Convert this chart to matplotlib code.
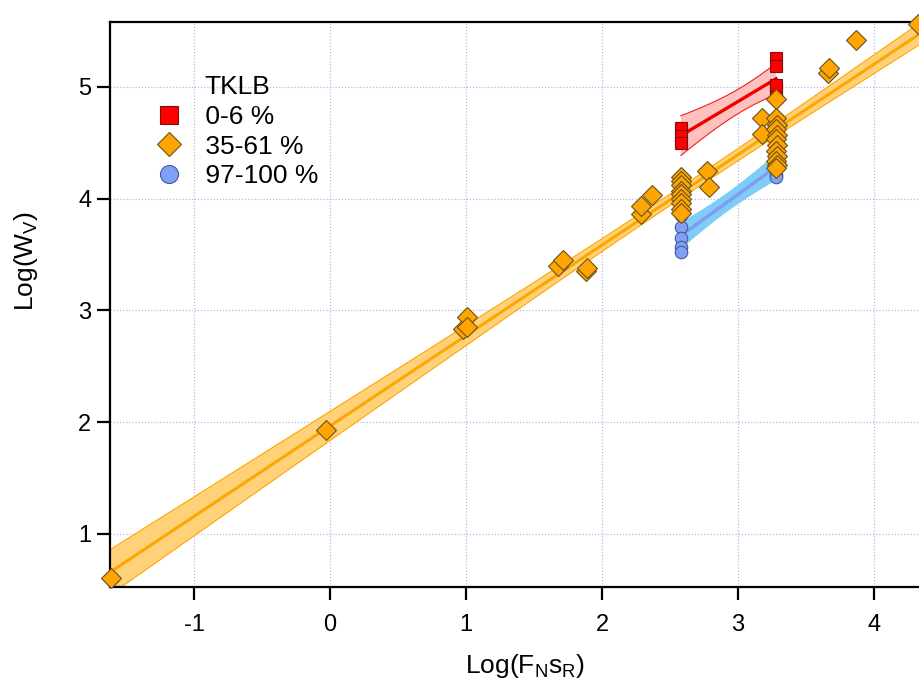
import math
import numpy as np
import matplotlib
matplotlib.use("Agg")
import matplotlib.pyplot as plt
from matplotlib.lines import Line2D

# ---------------- data ----------------
red_x = [2.58, 2.58, 2.58, 3.28, 3.28, 3.28, 3.28, 3.28]
red_y = [4.63, 4.56, 4.50, 5.26, 5.19, 4.91, 4.98, 5.02]

orange_x = [-1.61, -0.03, 0.98, 1.01, 1.01, 1.68, 1.71, 1.88, 1.89,
            2.29, 2.29, 2.37,
            2.58, 2.58, 2.58, 2.58, 2.58, 2.58, 2.58, 2.58, 2.58,
            2.77, 2.79, 3.18, 3.18,
            3.28, 3.28, 3.29, 3.28, 3.29, 3.28, 3.29, 3.28, 3.29, 3.28, 3.29, 3.28,
            3.66, 3.67, 3.87, 4.32]
orange_y = [0.61, 1.93, 2.83, 2.94, 2.85, 3.40, 3.45, 3.35, 3.38,
            3.86, 3.93, 4.03,
            4.19, 4.16, 4.12, 4.07, 4.04, 4.00, 3.96, 3.91, 3.87,
            4.25, 4.10, 4.72, 4.58,
            4.89, 4.72, 4.66, 4.62, 4.57, 4.53, 4.48, 4.43, 4.38, 4.34, 4.30, 4.27,
            5.12, 5.17, 5.42, 5.56]

blue_x = [2.58, 2.58, 2.58, 2.58, 2.58, 3.28, 3.28, 3.28, 3.28, 3.28]
blue_y = [3.85, 3.75, 3.65, 3.57, 3.52, 4.42, 4.34, 4.26, 4.21, 4.19]

legend_title = "TKLB"
legend_labels = [" 0-6 %", " 35-61 %", " 97-100 %"]
x_ticks = [-1, 0, 1, 2, 3, 4]
y_ticks = [1, 2, 3, 4, 5]
x_label = r"Log(F$_\mathrm{N}$s$_\mathrm{R}$)"
y_label = r"Log(W$_\mathrm{V}$)"


# ---------------- helpers ----------------
def t_ppf(p, df):
    c = math.gamma((df + 1) / 2) / (math.sqrt(df * math.pi) * math.gamma(df / 2))
    grid = np.linspace(0, 20, 200001)
    pdf = c * (1 + grid ** 2 / df) ** (-(df + 1) / 2)
    cdf = 0.5 + np.concatenate([[0], np.cumsum((pdf[1:] + pdf[:-1]) / 2 * np.diff(grid))])
    return float(np.interp(p, cdf, grid))


def fit_band(x, y, xs, conf=0.95):
    x = np.asarray(x, float)
    y = np.asarray(y, float)
    n = len(x)
    b, a = np.polyfit(x, y, 1)
    res = y - (a + b * x)
    s = math.sqrt(np.sum(res ** 2) / (n - 2))
    sxx = np.sum((x - x.mean()) ** 2)
    t = t_ppf(0.5 + conf / 2, n - 2)
    yhat = a + b * xs
    half = t * s * np.sqrt(1.0 / n + (xs - x.mean()) ** 2 / sxx)
    return yhat, yhat - half, yhat + half


# ---------------- style ----------------
plt.rcParams['font.family'] = ['Liberation Sans', 'DejaVu Sans']
plt.rcParams['mathtext.fontset'] = 'custom'
plt.rcParams['mathtext.rm'] = 'Liberation Sans'
plt.rcParams['mathtext.it'] = 'Liberation Sans:italic'
plt.rcParams['mathtext.bf'] = 'Liberation Sans:bold'
plt.rcParams['axes.unicode_minus'] = False

W, H = 919, 680
fig = plt.figure(figsize=(W / 100, H / 100), dpi=100)
left, right, top, bottom = 110, 935, 22, 587
ax = fig.add_axes([left / W, (H - bottom) / H, (right - left) / W, (bottom - top) / H])

px_per_x = 136.0
x0_px = 330.0
xmin = (left - x0_px) / px_per_x
xmax = (right - x0_px) / px_per_x
px_per_y = 111.8
y0_px = 645.8
ymin = (y0_px - bottom) / px_per_y
ymax = (y0_px - top) / px_per_y
ax.set_xlim(xmin, xmax)
ax.set_ylim(ymin, ymax)

ax.grid(True, color='#b8b8ee', linestyle=(0, (1, 1.5)), linewidth=0.9)
ax.set_axisbelow(True)

# orange fit
xs_o = np.linspace(xmin, xmax, 300)
yo, lo_o, hi_o = fit_band(orange_x, orange_y, xs_o)
ax.fill_between(xs_o, lo_o, hi_o, facecolor='#ffd27a', edgecolor='none', zorder=2)
ax.plot(xs_o, lo_o, color='#ffa500', lw=0.8, zorder=2)
ax.plot(xs_o, hi_o, color='#ffa500', lw=0.8, zorder=2)
ax.plot(xs_o, yo, color='#ffa500', lw=2.2, zorder=3)

# red fit
xs_r = np.linspace(min(red_x), max(red_x), 100)
yr, lo_r, hi_r = fit_band(red_x, red_y, xs_r)
ax.fill_between(xs_r, lo_r, hi_r, facecolor='#ffc0c0', edgecolor='none', zorder=3)
ax.plot(xs_r, lo_r, color='#ee2222', lw=0.8, zorder=3)
ax.plot(xs_r, hi_r, color='#ee2222', lw=0.8, zorder=3)
ax.plot(xs_r, yr, color='#ee0000', lw=2.4, zorder=4)

# blue fit
xs_b = np.linspace(min(blue_x), max(blue_x), 100)
yb, lo_b, hi_b = fit_band(blue_x, blue_y, xs_b)
ax.fill_between(xs_b, lo_b, hi_b, facecolor='#80ccf8', edgecolor='none', zorder=3)
ax.plot(xs_b, yb, color='#7f9cf0', lw=2.4, zorder=4)

# points
ax.plot(blue_x, blue_y, 'o', ms=9, mfc='#80a0f8', mec='#4a5a90', mew=0.8, zorder=5)
ax.plot(red_x, red_y, 's', ms=9, mfc='#ff0000', mec='#7a1010', mew=0.8, zorder=6)
ax.plot(orange_x, orange_y, 'D', ms=10.5, mfc='#ffa500', mec='#6a5020', mew=0.8, zorder=7,
        clip_on=False)

# axes styling
for side in ['left', 'bottom', 'top']:
    ax.spines[side].set_linewidth(1.6)
ax.spines['right'].set_visible(False)
ax.set_xticks(x_ticks)
ax.set_yticks(y_ticks)
ax.tick_params(axis='both', direction='out', length=9.5, width=1.6, labelsize=17)
ax.tick_params(axis='x', pad=10)
ax.tick_params(axis='y', pad=4)
ax.set_xlabel(x_label, fontsize=19)
ax.set_ylabel(y_label, fontsize=19)
ax.xaxis.set_label_coords((525 - left) / (right - left), -(673 - bottom) / (bottom - top))
ax.xaxis.label.set_va('baseline')
ax.yaxis.set_label_coords(-(left - 40) / (right - left), (bottom - 261) / (bottom - top))

handles = [
    Line2D([], [], ls='none', marker='s', ms=13, mfc='#ff0000', mec='#7a1010', mew=0.8),
    Line2D([], [], ls='none', marker='D', ms=12, mfc='#ffa500', mec='#6a5020', mew=0.8),
    Line2D([], [], ls='none', marker='o', ms=13, mfc='#80a0f8', mec='#4a5a90', mew=0.8),
]
leg = ax.legend(handles, legend_labels, title=legend_title, loc='upper left',
                bbox_to_anchor=((156 - left) / (right - left), 1 - (75 - top) / (bottom - top)),
                frameon=False, fontsize=19, title_fontsize=19, handlelength=1.0,
                handletextpad=0.6, labelspacing=0.22, borderpad=0.0, borderaxespad=0.0)

fig.savefig("out.png", dpi=100)
